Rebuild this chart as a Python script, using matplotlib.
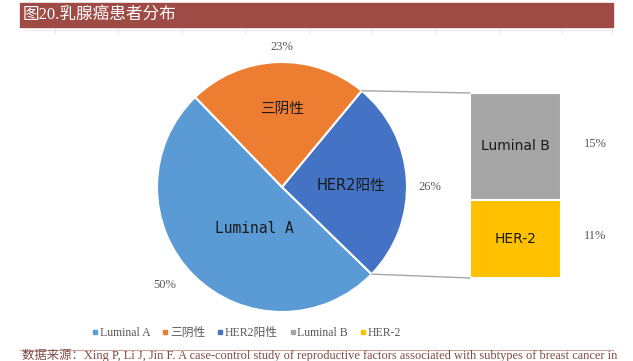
import numpy as np
import matplotlib
matplotlib.use('Agg')
import matplotlib.pyplot as plt
from matplotlib.patches import Rectangle, ConnectionPatch
from matplotlib.lines import Line2D

plt.rcParams['font.family'] = ['Liberation Serif', 'Noto Sans CJK SC']

# data
pie_labels = ['Luminal A', 'HER2阳性', '三阴性']
pie_values = [50, 26, 23]
pie_colors = ['#5B9BD5', '#4472C4', '#ED7D31']
bar_labels = ['HER-2', 'Luminal B']
bar_values = [11, 15]
bar_colors = ['#FFC000', '#A5A5A5']
legend_order = ['Luminal A', '三阴性', 'HER2阳性', 'Luminal B', 'HER-2']
legend_colors = ['#5B9BD5', '#ED7D31', '#4472C4', '#A5A5A5', '#FFC000']

W, H = 633, 361
fig = plt.figure(figsize=(W / 100, H / 100), dpi=100)

def px(x, y, w, h):
    return [x / W, 1 - (y + h) / H, w / W, h / H]

# title bar
fig.patches.append(Rectangle((20 / W, 1 - 27 / H), 593 / W, 24 / H,
                             transform=fig.transFigure, color='#9E4A45', zorder=0))
fig.text(23 / W, 1 - 15 / H, '图20.乳腺癌患者分布', color='white', fontsize=12,
         va='center', ha='left')
# faint table lines under title
fig.add_artist(Line2D([25 / W, 613 / W], [1 - 29.5 / H] * 2, color='#E4E4E4', lw=0.6))
for gx in [55, 118, 182, 245, 309, 372, 436, 499, 562, 612]:
    fig.add_artist(Line2D([gx / W] * 2, [1 - 29 / H, 1 - 33 / H], color='#E0E0E0', lw=0.6))

# pie
ax = fig.add_axes(px(157, 62, 250, 250))
wedges, _ = ax.pie(pie_values, colors=pie_colors, startangle=134, counterclock=True,
                   wedgeprops=dict(edgecolor='white', linewidth=1.5))
ax.set_xlim(-1, 1)
ax.set_ylim(-1, 1)
ax.set_aspect('equal')
ax.axis('off')

inner = {'Luminal A': (0.40, 236, 'DejaVu Sans Mono'), 'HER2阳性': (0.55, 1, 'DejaVu Sans'),
         '三阴性': (0.63, 90, 'DejaVu Sans')}
outer = {'Luminal A': (1.22, 220), 'HER2阳性': (1.18, 0), '三阴性': (1.12, 90)}
for w, lab, val in zip(wedges, pie_labels, pie_values):
    r, a, fam = inner[lab]
    ax.text(r * np.cos(np.radians(a)), r * np.sin(np.radians(a)), lab,
            ha='center', va='center', fontsize=10.5, color='#1a1a1a',
            family=[fam, 'Noto Sans CJK SC'], clip_on=False)
    r, a = outer[lab]
    ax.text(r * np.cos(np.radians(a)), r * np.sin(np.radians(a)), f'{val}%',
            ha='center', va='center', fontsize=9, color='#595959', clip_on=False)

# bar of pie
bx = fig.add_axes(px(470, 93, 91, 185))
bottom = 0
for lab, val, col in zip(bar_labels, bar_values, bar_colors):
    bx.bar(0, val, bottom=bottom, width=1, color=col, edgecolor='white', linewidth=1.5)
    bx.text(0, bottom + val / 2, lab, ha='center', va='center', fontsize=10,
            family=['DejaVu Sans'], color='#1a1a1a')
    bx.text(0.88, bottom + val / 2 + 0.4, f'{val}%', ha='center', va='center',
            fontsize=9, color='#595959', clip_on=False)
    bottom += val
bx.set_xlim(-0.5, 0.5)
bx.set_ylim(0, sum(bar_values))
bx.axis('off')

# connector lines from HER2 wedge to bar
her = wedges[1]
for ang, yb in [(her.theta2, sum(bar_values)), (her.theta1, 0)]:
    p = (np.cos(np.radians(ang)), np.sin(np.radians(ang)))
    fig.add_artist(ConnectionPatch(xyA=p, coordsA=ax.transData, xyB=(-0.5, yb),
                                   coordsB=bx.transData, color='#A6A6A6', lw=1))

# legend
handles = [Line2D([], [], marker='s', ls='', markersize=3.5, color=c) for c in legend_colors]
leg = fig.legend(handles, legend_order, loc='center', bbox_to_anchor=(246 / W, 1 - 333 / H),
                 ncol=5, frameon=False, fontsize=8.5, handletextpad=0.05, columnspacing=0.9,
                 handlelength=0.7, labelcolor='#595959')

# source line and text
fig.add_artist(Line2D([20 / W, 613 / W], [1 - 350 / H] * 2, color='#C9A3A0', lw=0.8))
fig.text(22 / W, 1 - 355.5 / H,
         '数据来源：Xing P, Li J, Jin F. A case-control study of reproductive factors associated with subtypes of breast cancer in',
         color='#7F4A46', fontsize=8.9, ha='left', va='center')

fig.savefig('out.png', dpi=100)
